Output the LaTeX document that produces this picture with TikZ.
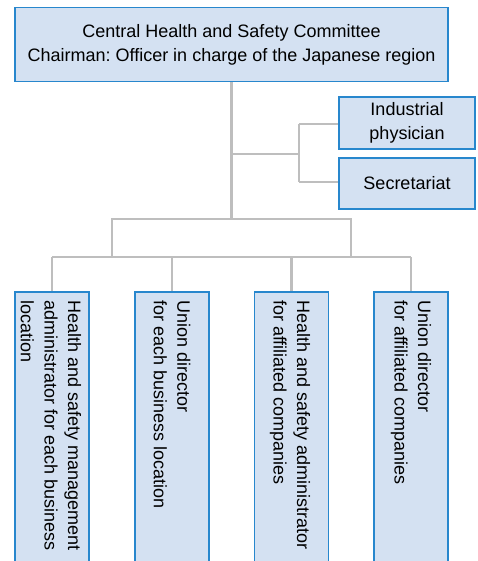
\documentclass[tikz,border=0pt]{standalone}
\usepackage{fontspec}
\setmainfont{Liberation Sans}
\usetikzlibrary{calc}
\frenchspacing
\definecolor{boxfill}{RGB}{212,225,242}
\definecolor{boxline}{RGB}{40,135,205}
\definecolor{conn}{RGB}{190,190,190}
\begin{document}
\begin{tikzpicture}[x=1pt,y=-1pt,
  box/.style={draw=boxline, fill=boxfill, line width=1.5pt, inner sep=0pt, align=center, font=\fontsize{18}{23.4}\selectfont},
  vtext/.style={rotate=-90, align=left, inner sep=0pt, anchor=west, font=\fontsize{18}{23.6}\selectfont},
  link/.style={draw=conn, line width=2.8pt}]
\useasboundingbox (0,0) rectangle (477,561);
\clip (0,0) rectangle (477,561);
% top
\node[box, minimum width=433, minimum height=74] (top) at (231.5,44.7) {Central Health and Safety Committee\\Chairman: Officer in charge of the Japanese region};
\node[box, minimum width=136, minimum height=52] (ip) at (407,123) {Industrial\\physician};
\node[box, minimum width=136, minimum height=51] (sec) at (407,183.5) {Secretariat};
% bottom boxes
\foreach \i/\x in {1/52,2/172,3/291.5,4/411}{
  \node[box, minimum width=74, minimum height=290, anchor=north] (b\i) at (\x,291) {};
}
\node[vtext] (t1) at ($(b1.north)+(-1,9)$) {Health and safety management\\administrator for each business\\location};
\node[vtext] (t2) at ($(b2.north)+(0,9)$) {Union director\\for each business location};
\node[vtext] (t3) at ($(b3.north)+(-1.5,9)$) {Health and safety administrator\\for affiliated companies};
\node[vtext] (t4) at ($(b4.north)+(0,9)$) {Union director\\for affiliated companies};
% junctions
\coordinate (j1) at (231.5,154);
\coordinate (j2) at (231.5,219);
\coordinate (bj) at (299,154);
\coordinate (bj1) at (299,124);
\coordinate (bj2) at (299,182);
\coordinate (hl) at (112,219);
\coordinate (hr) at (351,219);
\coordinate (hl2) at (112,257);
\coordinate (hr2) at (351,257);
\coordinate (l1) at (52,257);
\coordinate (l4) at (411,257);
\draw[link] (top.south) -- (j2);
\draw[link] (j1) -- (bj);
\draw[link] (bj2) -- (bj1);
\draw[link] (bj1) -- (bj1 -| ip.west);
\draw[link] (bj2) -- (bj2 -| sec.west);
\draw[link] (hl2) -- (hl) -- (hr) -- (hr2);
\draw[link] (l1) -- (l4);
\foreach \i in {1,2,3,4}{ \draw[link] (b\i.north |- l1) -- (b\i.north); }
\end{tikzpicture}
\end{document}
